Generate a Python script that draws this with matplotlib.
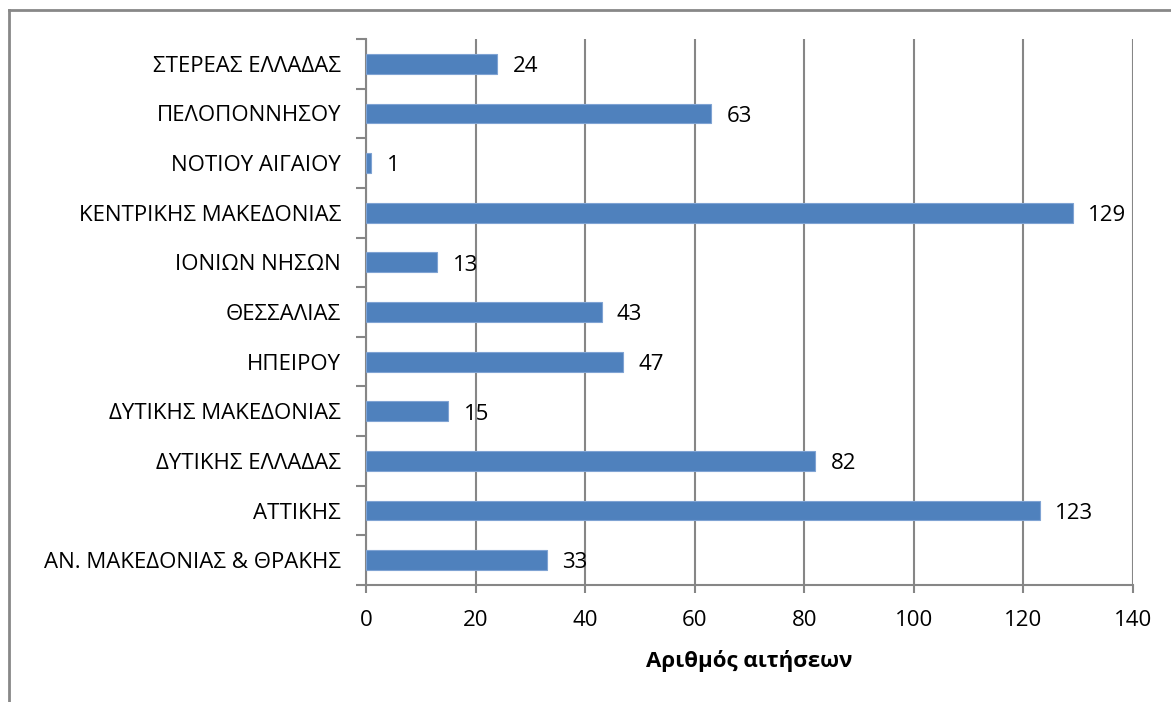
import matplotlib
matplotlib.use("Agg")
import matplotlib.pyplot as plt
from matplotlib.lines import Line2D

plt.rcParams['font.family'] = ['Open Sans', 'DejaVu Sans']

# περιφέρειες (από κάτω προς τα πάνω) και αριθμός αιτήσεων
regions = [
    'ΑΝ. ΜΑΚΕΔΟΝΙΑΣ & ΘΡΑΚΗΣ', 'ΑΤΤΙΚΗΣ', 'ΔΥΤΙΚΗΣ ΕΛΛΑΔΑΣ',
    'ΔΥΤΙΚΗΣ ΜΑΚΕΔΟΝΙΑΣ', 'ΗΠΕΙΡΟΥ', 'ΘΕΣΣΑΛΙΑΣ', 'ΙΟΝΙΩΝ ΝΗΣΩΝ',
    'ΚΕΝΤΡΙΚΗΣ ΜΑΚΕΔΟΝΙΑΣ', 'ΝΟΤΙΟΥ ΑΙΓΑΙΟΥ', 'ΠΕΛΟΠΟΝΝΗΣΟΥ',
    'ΣΤΕΡΕΑΣ ΕΛΛΑΔΑΣ'
]
applications = [33, 123, 82, 15, 47, 43, 13, 129, 1, 63, 24]
xticks = [0, 20, 40, 60, 80, 100, 120, 140]

bar_color = '#4F81BD'
grid_color = '#868686'
fs = 16

fig = plt.figure(figsize=(11.71, 7.02), dpi=100)
ax = fig.add_axes([366 / 1171, 1 - 585 / 702, (1133 - 366) / 1171, (585 - 39) / 702])

pos = list(range(len(regions)))
ax.barh(pos, applications, height=0.4, color=bar_color, edgecolor='#7FA3D3',
        linewidth=0.8, zorder=3)

for p, v in zip(pos, applications):
    ax.annotate(str(v), (v, p), xytext=(11, -2), textcoords='offset points',
                va='center', ha='left', fontsize=fs, zorder=4)

ax.set_xlim(0, 140)
ax.set_ylim(-0.5, len(regions) - 0.5)
ax.set_xticks(xticks)
ax.set_yticks(pos)
ax.set_yticklabels(regions)
ax.set_yticks([p - 0.5 for p in range(len(regions) + 1)], minor=True)

ax.xaxis.grid(True, color=grid_color, linewidth=1.5, zorder=0)
ax.set_axisbelow(True)

for side in ['top', 'right']:
    ax.spines[side].set_visible(False)
for side in ['left', 'bottom']:
    ax.spines[side].set_color(grid_color)
    ax.spines[side].set_linewidth(1.5)

ax.tick_params(axis='y', which='major', length=0, pad=18, labelsize=fs)
ax.tick_params(axis='y', which='minor', length=7, width=1.5, color=grid_color)
ax.tick_params(axis='x', which='major', length=6, width=1.5, color=grid_color,
               labelsize=fs, pad=12)

ax.set_xlabel('Αριθμός αιτήσεων', fontsize=fs, fontweight='bold', labelpad=14)

# πλαίσιο γραφήματος (κομμένο δεξιά και κάτω)
fig.add_artist(Line2D([9 / 1171, 1], [1 - 9.5 / 702] * 2, color='#888888',
                      linewidth=2, transform=fig.transFigure))
fig.add_artist(Line2D([9 / 1171] * 2, [0, 1 - 9.5 / 702], color='#888888',
                      linewidth=2, transform=fig.transFigure))

fig.savefig('out.png', dpi=100)
